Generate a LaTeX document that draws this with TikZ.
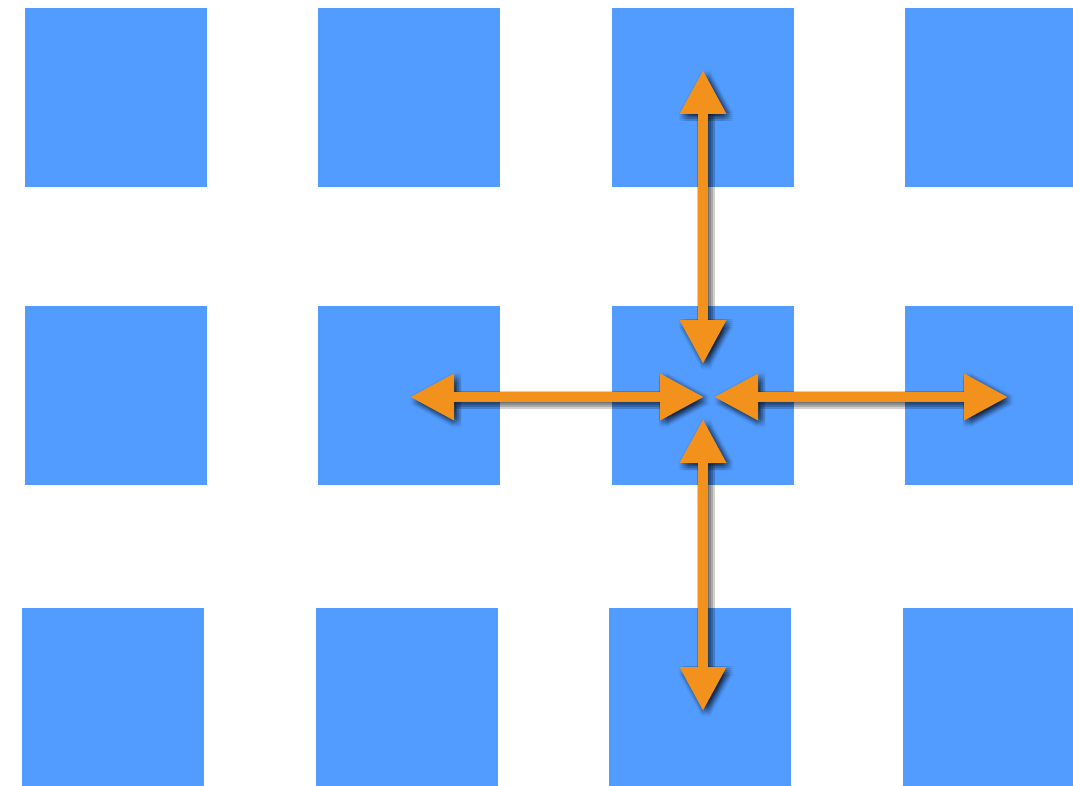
\documentclass[tikz,border=0pt]{standalone}
\usetikzlibrary{arrows.meta}
\usepackage{xcolor}
\definecolor{cellblue}{RGB}{81,156,254}
\definecolor{linkorange}{RGB}{242,146,28}
\tikzset{
  cell/.style={rectangle,fill=cellblue,minimum width=182pt,minimum height=179pt,inner sep=0pt},
  link/.style={linkorange,line width=10pt,<->},
  linkshadow/.style={black,opacity=.04,line width=10pt,<->},
}
% soft drop shadow under an arrow (stacked shifted copies)
\newcommand{\link}[2]{%
  \foreach \dx in {-1,1,3,5,7}
    \foreach \dy in {-1,1,3,5,7}
      \draw[linkshadow,transform canvas={shift={(\dx pt,-\dy pt)}}] (#1) -- (#2);
}
\newcommand{\linkdraw}[2]{\draw[link] (#1) -- (#2);}

\begin{document}
\begin{tikzpicture}[x=1pt,y=-1pt,>={Triangle[length=44pt,width=44pt]}]
\useasboundingbox (0,0) rectangle (1073,786);
\clip (0,0) rectangle (1073,786);
% top row
\node[cell] (c11) at (116,97.5) {};
\node[cell] (c12) at (409,97.5) {};
\node[cell] (c13) at (703,97.5) {};
\node[cell] (c14) at (996,97.5) {};
% middle row
\node[cell] (c21) at (116,395) {};
\node[cell] (c22) at (409,395) {};
\node[cell] (c23) at (703,395) {};
\node[cell] (c24) at (996,395) {};
% bottom row
\node[cell] (c31) at (113,697.5) {};
\node[cell] (c32) at (407,697.5) {};
\node[cell] (c33) at (700,697.5) {};
\node[cell] (c34) at (994,697.5) {};
% arrow ends around the centre cell
\coordinate (up) at (703,70);
\coordinate (upin) at (703,364);
\coordinate (left) at (410,397);
\coordinate (leftin) at (704,397);
\coordinate (right) at (1008,397);
\coordinate (rightin) at (714,397);
\coordinate (down) at (703,711);
\coordinate (downin) at (703,419);
\link{up}{upin}
\link{left}{leftin}
\link{right}{rightin}
\link{down}{downin}
\linkdraw{up}{upin}
\linkdraw{left}{leftin}
\linkdraw{right}{rightin}
\linkdraw{down}{downin}
\end{tikzpicture}
\end{document}
